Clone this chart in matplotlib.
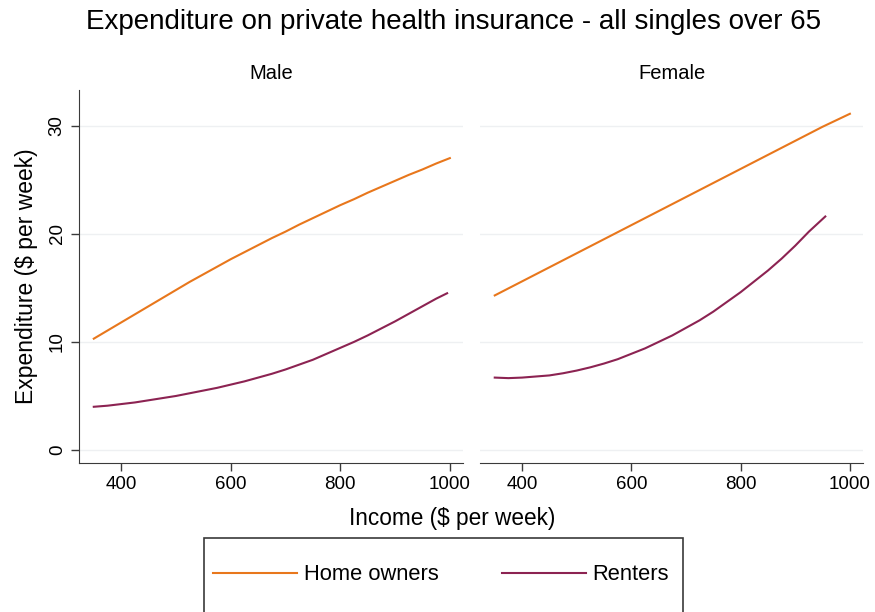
import numpy as np
import matplotlib
matplotlib.use('Agg')
import matplotlib.pyplot as plt
from matplotlib.patches import Rectangle

plt.rcParams['font.family'] = ['Liberation Sans', 'DejaVu Sans']

# values
male_x_own = [350, 375, 400, 425, 450, 475, 500, 525, 550, 575, 600, 625, 650, 675,
              700, 725, 750, 775, 800, 825, 850, 875, 900, 925, 950, 975, 1000]
male_own = [10.3, 11.05, 11.8, 12.55, 13.3, 14.05, 14.8, 15.55, 16.25, 16.95, 17.65, 18.3, 18.95, 19.6,
            20.2, 20.85, 21.45, 22.05, 22.65, 23.2, 23.8, 24.35, 24.9, 25.45, 25.95, 26.5, 27.0]
male_x_rent = [350, 375, 400, 425, 450, 475, 500, 525, 550, 575, 600, 625, 650, 675,
               700, 725, 750, 775, 800, 825, 850, 875, 900, 925, 950, 975, 995]
male_rent = [4.0, 4.1, 4.25, 4.4, 4.6, 4.8, 5.0, 5.25, 5.5, 5.75, 6.05, 6.35, 6.7, 7.05,
             7.45, 7.9, 8.35, 8.9, 9.45, 10.0, 10.6, 11.25, 11.9, 12.6, 13.3, 14.0, 14.5]

fem_x_own = [350, 400, 450, 500, 550, 600, 650, 700, 750, 800, 850, 900, 950, 1000]
fem_own = [14.3, 15.6, 16.9, 18.2, 19.5, 20.8, 22.1, 23.4, 24.7, 26.0, 27.3, 28.6, 29.9, 31.1]
fem_x_rent = [350, 375, 400, 425, 450, 475, 500, 525, 550, 575, 600, 625, 650, 675,
              700, 725, 750, 775, 800, 825, 850, 875, 900, 925, 955]
fem_rent = [6.7, 6.65, 6.7, 6.8, 6.9, 7.1, 7.35, 7.65, 8.0, 8.4, 8.9, 9.4, 10.0, 10.6,
            11.3, 12.0, 12.8, 13.7, 14.6, 15.6, 16.6, 17.7, 18.9, 20.2, 21.6]

panels = ['Male', 'Female']
series_labels = ['Home owners', 'Renters']
x_ticks = [400, 600, 800, 1000]
y_ticks = [0, 10, 20, 30]

orange = '#E8771C'
maroon = '#8C2352'
axis_col = '#3a3a3a'

fig = plt.figure(figsize=(8.75, 6.12), dpi=100)
W, H = 875, 612

def px_axes(x0, x1, ytop, ybot):
    return fig.add_axes([x0 / W, 1 - ybot / H, (x1 - x0) / W, (ybot - ytop) / H])

ax1 = px_axes(79, 463, 90, 463)
ax2 = px_axes(480, 863, 90, 463)

data = [
    ((male_x_own, male_own), (male_x_rent, male_rent)),
    ((fem_x_own, fem_own), (fem_x_rent, fem_rent)),
]

lines = []
for ax, name, (own, rent) in zip([ax1, ax2], panels, data):
    for y in y_ticks:
        ax.axhline(y, color='#eef0f2', lw=1.0, zorder=0)
    l1, = ax.plot(own[0], own[1], color=orange, lw=1.5, solid_joinstyle='round')
    l2, = ax.plot(rent[0], rent[1], color=maroon, lw=1.5, solid_joinstyle='round')
    lines = [l1, l2]
    ax.set_xlim(323, 1024)
    ax.set_ylim(-1.2, 33.3)
    ax.set_xticks(x_ticks)
    ax.set_yticks(y_ticks)
    for s in ['top', 'right']:
        ax.spines[s].set_visible(False)
    ax.spines['bottom'].set_color(axis_col)
    ax.spines['left'].set_color(axis_col)
    ax.tick_params(colors=axis_col, labelcolor='black', labelsize=13.5, length=6, width=1)
    ax.text(0.5, 1.02, name, transform=ax.transAxes, ha='center', va='bottom', fontsize=14.5)

ax1.set_yticklabels([str(v) for v in y_ticks], rotation=90, va='center')
ax2.spines['left'].set_visible(False)
ax2.tick_params(axis='y', left=False, labelleft=False)

ax1.set_ylabel('Expenditure ($ per week)', fontsize=16.5, labelpad=8)

fig.text(452 / W, 1 - 518 / H, 'Income ($ per week)', ha='center', va='center', fontsize=16.3)
fig.text(454 / W, 1 - 22 / H, 'Expenditure on private health insurance - all singles over 65',
         ha='center', va='center', fontsize=20)

# legend box runs off the bottom edge
fig.patches.append(Rectangle((204 / W, -0.1), (683 - 204) / W, (1 - 538 / H) + 0.1,
                             transform=fig.transFigure, fill=False, edgecolor=axis_col, lw=1.2))
fig.legend(lines, series_labels, loc='center', bbox_to_anchor=(441 / W, 1 - 575 / H),
           ncol=2, frameon=False, fontsize=15.75, handlelength=3.85, handletextpad=0.3,
           columnspacing=2.9)

fig.savefig('out.png', dpi=100)
